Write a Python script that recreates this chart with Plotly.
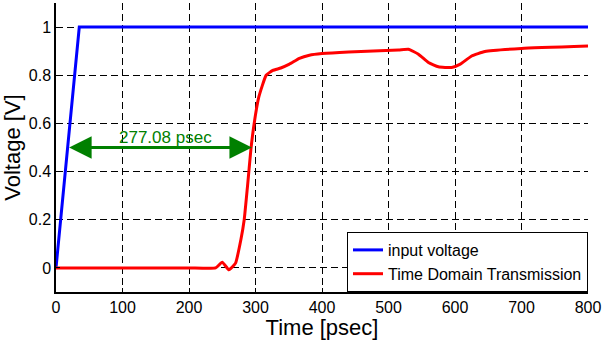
import plotly.graph_objects as go

# input voltage
t_in = [0, 35, 800]
v_in = [0, 1, 1]

# time domain transmission
t_tdt = [0, 100, 200, 240, 250, 260, 270, 278, 283, 288, 293, 298, 305, 316, 326, 338, 351, 366, 381, 400,
         440, 515, 530, 545, 560, 575, 595, 608, 625, 645, 700, 800]
v_tdt = [0, 0, 0, 0, 0.024, -0.008, 0.02, 0.117, 0.2, 0.34, 0.49, 0.6, 0.71, 0.80, 0.82, 0.83, 0.846, 0.87, 0.883, 0.89,
         0.897, 0.905, 0.908, 0.8875, 0.853, 0.835, 0.832, 0.846, 0.88, 0.899, 0.911, 0.921]

arrow_start = 17.5
arrow_end = 294.6
arrow_level = 0.5
arrow_label = "277.08 psec"

x_ticks = [0, 100, 200, 300, 400, 500, 600, 700, 800]
y_ticks = [0, 0.2, 0.4, 0.6, 0.8, 1]

FONT = "Liberation Sans, Arial, sans-serif"

fig = go.Figure()
fig.add_trace(go.Scatter(x=t_in, y=v_in, mode="lines", name="input voltage",
                         line=dict(color="#0000ff", width=3)))
fig.add_trace(go.Scatter(x=t_tdt, y=v_tdt, mode="lines", name="Time Domain Transmission",
                         line=dict(color="#ff0000", width=3, shape="spline", smoothing=0.4)))

fig.add_annotation(x=arrow_end, y=arrow_level, ax=arrow_start, ay=arrow_level,
                   xref="x", yref="y", axref="x", ayref="y",
                   showarrow=True, arrowhead=2, startarrowhead=2, arrowside="end+start",
                   arrowsize=1.5, startarrowsize=1.5, arrowwidth=3, arrowcolor="#008000", text="")
fig.add_annotation(x=(arrow_start + arrow_end) / 2 + 8, y=arrow_level, yshift=10,
                   xref="x", yref="y", showarrow=False, text=arrow_label,
                   font=dict(family=FONT, size=17, color="#008000"))

grid = dict(showgrid=True, gridcolor="black", gridwidth=1, griddash="7px,4px", zeroline=False,
            showline=True, linecolor="black", linewidth=1.5, ticks="inside", ticklen=4,
            tickcolor="black", tickfont=dict(family=FONT, size=16, color="black"))

fig.update_xaxes(range=[0, 800], tickvals=x_ticks, title=dict(text="Time [psec]", standoff=0,
                 font=dict(family=FONT, size=22, color="black")), **grid)
fig.update_yaxes(range=[-0.1, 1.1], tickvals=y_ticks, ticktext=[str(v) for v in y_ticks],
                 title=dict(text="Voltage [V]", standoff=4, font=dict(family=FONT, size=22, color="black")), **grid)

fig.update_layout(width=604, height=340, margin=dict(l=56, r=14, t=3, b=48),
                  plot_bgcolor="white", paper_bgcolor="white",
                  legend=dict(x=1, y=0, xanchor="right", yanchor="bottom", bgcolor="white",
                              bordercolor="black", borderwidth=1,
                              font=dict(family=FONT, size=16, color="black"),
                              tracegroupgap=0, itemwidth=30),
                  font=dict(family=FONT))

fig.write_html("out.html")
